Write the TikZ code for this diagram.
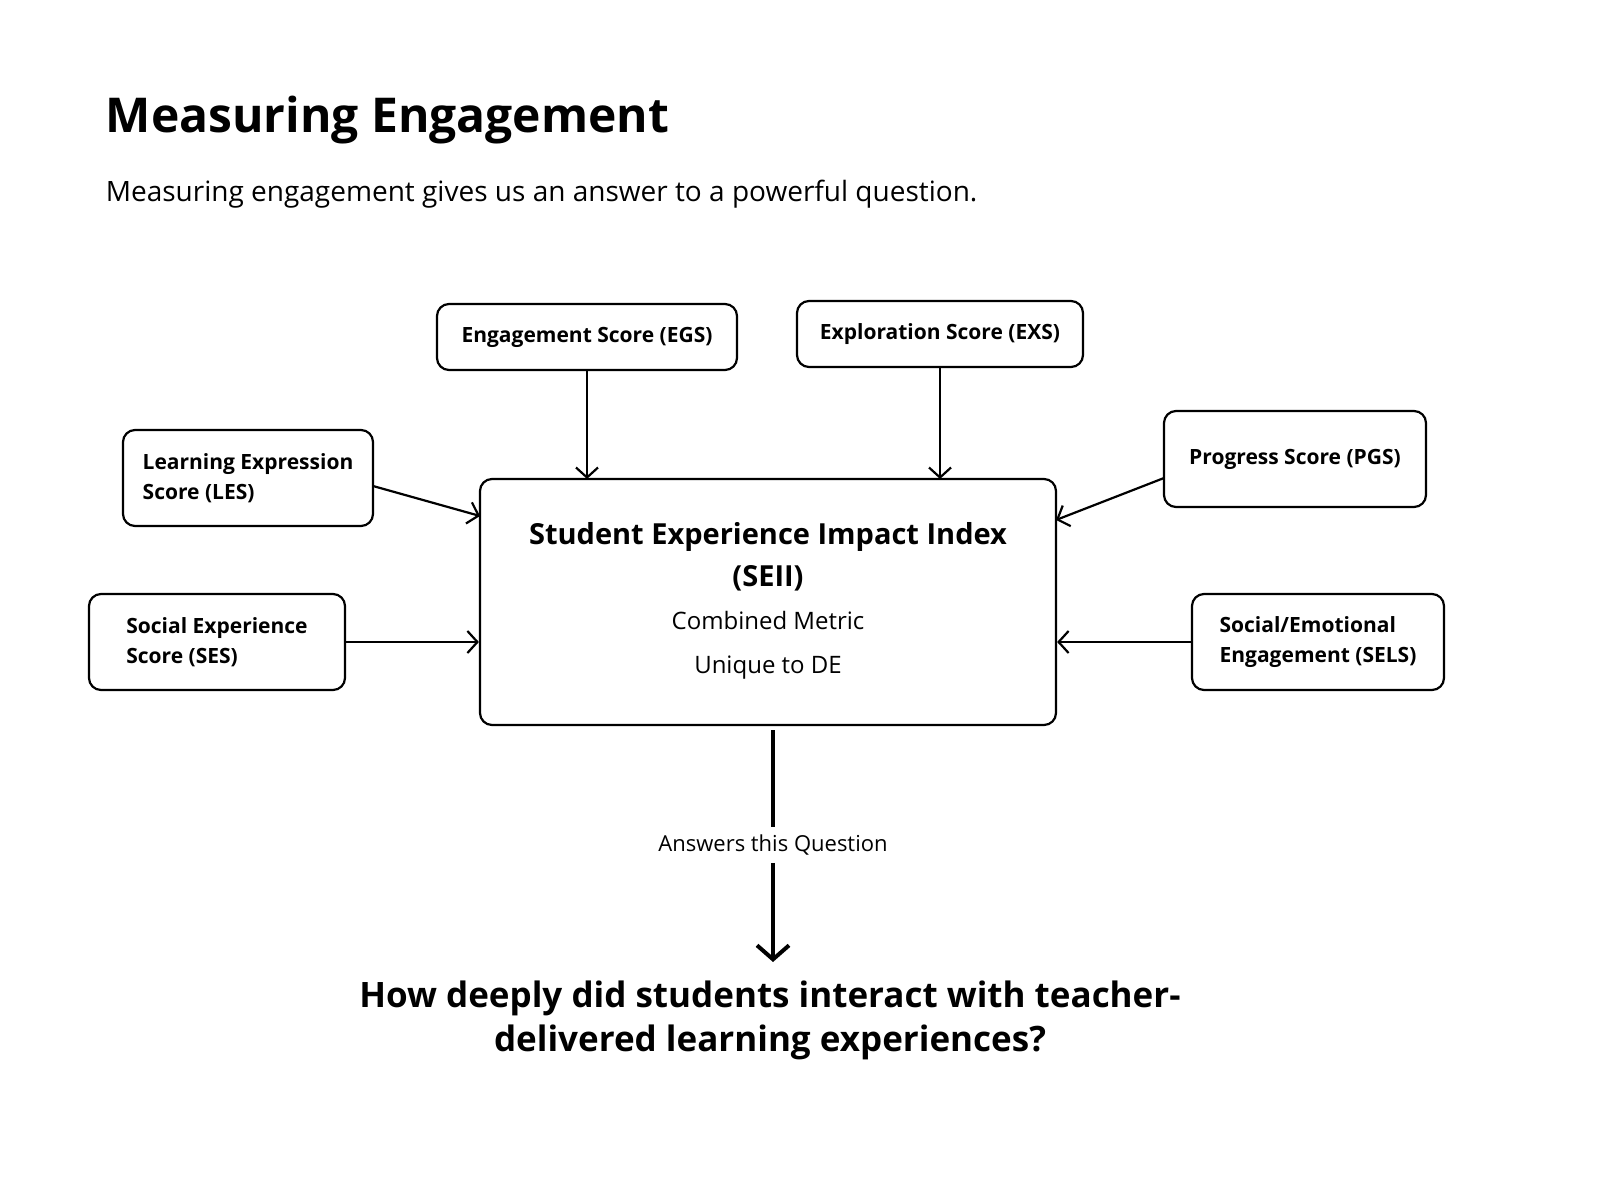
\documentclass[tikz,border=0pt]{standalone}
\usepackage{fontspec}
\setmainfont{Open Sans}
\usetikzlibrary{positioning,arrows.meta}

\begin{document}
\begin{tikzpicture}[x=0.5pt,y=-0.5pt,line width=1.1pt,
    score/.style={draw=black,rounded corners=6pt,align=left,font=\fontsize{10.5}{15}\selectfont\bfseries,inner xsep=8pt},
    link/.style={-{Straight Barb[length=5pt,width=11pt]}}]
                \useasboundingbox (0,0) rectangle (1600,1203);
                \node[anchor=west,font=\fontsize{24}{28}\selectfont\bfseries] (title) at (98,120) {Measuring Engagement};
                \node[anchor=west,font=\fontsize{14}{17}\selectfont] (sub) at (98,194) {Measuring engagement gives us an answer to a powerful question.};
                \node[draw=black,rounded corners=6pt,minimum width=288pt,minimum height=123pt] (seii) at (768,602) {};
                \node[align=center,font=\fontsize{14.5}{21}\selectfont\bfseries] (seiit) at (768,557) {Student Experience Impact Index\\(SEII)};
                \node[align=center,font=\fontsize{12}{22}\selectfont] (seiis) at (768,645) {Combined Metric\\Unique to DE};
                \node[score,minimum width=150pt,minimum height=33pt] (egs) at (587,337) {Engagement Score (EGS)};
                \node[score,minimum width=143pt,minimum height=33pt] (exs) at (940,334) {Exploration Score (EXS)};
                \node[score,minimum width=125pt,minimum height=48pt] (les) at (248,478) {Learning Expression\\Score (LES)};
                \node[score,minimum width=131pt,minimum height=48pt] (pgs) at (1295,459) {Progress Score (PGS)};
                \node[score,minimum width=128pt,minimum height=48pt] (ses) at (217,642) {Social Experience\\Score (SES)};
                \node[score,minimum width=126pt,minimum height=48pt] (sels) at (1318,642) {Social/Emotional\\Engagement (SELS)};
                \node[font=\fontsize{11}{13}\selectfont] (ans) at (773,845) {Answers this Question};
                \node[align=center,font=\fontsize{17.5}{22}\selectfont\bfseries] (q) at (770,1020) {How deeply did students interact with teacher-\\delivered learning experiences?};
                \coordinate (egsin) at (587,479);
                \coordinate (exsin) at (940,479);
                \coordinate (lesin) at (480,516);
                \coordinate (pgsin) at (1056,520);
                \coordinate (top) at (773,730);
                \coordinate (qtop) at (773,962);
                \draw[link] (egs) -- (egsin);
                \draw[link] (exs) -- (exsin);
                \draw[link] (373,486) -- (lesin);
                \draw[link] (1164,478) -- (pgsin);
                \draw[link] (ses.east) -- (seii.west |- ses.east);
                \draw[link] (sels.west) -- (seii.east |- sels.west);
                \draw[line width=2pt] (top) -- (ans.north);
                \draw[line width=2pt,-{Straight Barb[length=7pt,width=16pt]}] (ans.south) -- (qtop);
            \end{tikzpicture}
\end{document}
